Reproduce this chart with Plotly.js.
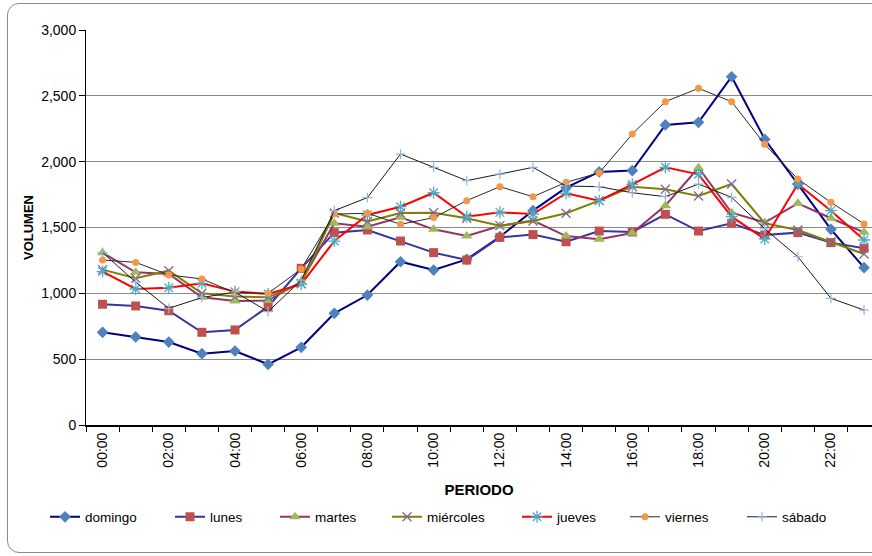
<!DOCTYPE html>
<html>
<head>
<meta charset="utf-8">
<script src="https://cdn.plot.ly/plotly-3.0.1.min.js"></script>
<style>
html,body{margin:0;padding:0;overflow:hidden;background:#fff;}
#chart{width:872px;height:556px;}
#frame{position:absolute;left:7px;top:3px;width:900px;height:548px;border:1px solid #8a8a8a;border-radius:12px;pointer-events:none;}
</style>
</head>
<body>
<div id="chart"></div>
<div id="frame"></div>
<script>
const hours = ["00:00","01:00","02:00","03:00","04:00","05:00","06:00","07:00","08:00","09:00","10:00","11:00",
               "12:00","13:00","14:00","15:00","16:00","17:00","18:00","19:00","20:00","21:00","22:00","23:00"];
const xTickText = ["00:00","","02:00","","04:00","","06:00","","08:00","","10:00","",
                   "12:00","","14:00","","16:00","","18:00","","20:00","","22:00",""];
const yTickVals = [0, 500, 1000, 1500, 2000, 2500, 3000];

const seriesNames = ["domingo","lunes","martes","miércoles","jueves","viernes","sábado"];

const domingo   = [704, 669, 630, 542, 562, 461, 590, 848, 987, 1240, 1177, 1258, 1430, 1628, 1803, 1922, 1932, 2279, 2299, 2645, 2170, 1830, 1486, 1195];
const lunes     = [917, 904, 868, 704, 722, 899, 1190, 1461, 1481, 1397, 1309, 1253, 1425, 1446, 1392, 1473, 1466, 1600, 1473, 1532, 1443, 1461, 1385, 1342];
const martes    = [1309, 1160, 1147, 970, 942, 945, 1089, 1532, 1506, 1577, 1486, 1435, 1512, 1552, 1435, 1410, 1458, 1666, 1954, 1612, 1538, 1684, 1570, 1463];
const miercoles = [1180, 1114, 1172, 1000, 975, 970, 1075, 1610, 1545, 1610, 1612, 1570, 1514, 1549, 1608, 1704, 1810, 1790, 1739, 1830, 1532, 1481, 1390, 1299];
const jueves    = [1165, 1033, 1043, 1076, 1013, 995, 1070, 1397, 1595, 1658, 1764, 1582, 1615, 1602, 1760, 1704, 1828, 1957, 1904, 1582, 1413, 1830, 1628, 1405];
const viernes   = [1253, 1235, 1140, 1109, 1005, 1000, 1185, 1602, 1608, 1524, 1575, 1704, 1810, 1734, 1843, 1915, 2210, 2456, 2557, 2456, 2132, 1868, 1691, 1527];
const sabado    = [1310, 1085, 886, 968, 1010, 861, 1100, 1628, 1727, 2058, 1957, 1856, 1906, 1957, 1815, 1810, 1764, 1734, 1830, 1729, 1490, 1278, 962, 873];

const seriesValues = [domingo, lunes, martes, miercoles, jueves, viernes, sabado];

const styles = [
  {line:{color:"#000080", width:2},   marker:{symbol:"diamond", size:9, color:"#4F81BD"}},
  {line:{color:"#3535A0", width:2},   marker:{symbol:"square", size:9, color:"#C0504D"}},
  {line:{color:"#993366", width:2},   marker:{symbol:"triangle-up", size:10, color:"#9BBB59"}},
  {line:{color:"#808000", width:2},   marker:{symbol:"x-thin-open", size:9, color:"#8064A2", line:{color:"#8064A2", width:1.3}}},
  {line:{color:"#FF0000", width:2},   marker:{symbol:"asterisk-open", size:10, color:"#4BACC6", line:{color:"#4BACC6", width:1.3}}},
  {line:{color:"#2a2a2a", width:1},   marker:{symbol:"circle", size:7, color:"#F79646"}},
  {line:{color:"#1a1a1a", width:1},   marker:{symbol:"cross-thin-open", size:7, color:"#95B3D7", line:{color:"#95B3D7", width:1.2}}}
];

const plotLeft = 86, plotW = 786, plotTop = 30, plotH = 395;
const legendTextStart = [85, 210, 315, 427, 557, 665, 782];
const legendNames = ["legend","legend2","legend3","legend4","legend5","legend6","legend7"];

const traces = seriesNames.map((name, i) => ({
  type: "scatter",
  mode: "lines+markers",
  name: name,
  x: hours,
  y: seriesValues[i],
  line: styles[i].line,
  marker: styles[i].marker,
  legend: legendNames[i]
}));

const legendY = (plotTop + plotH - 517) / plotH;
const layout = {
  width: 872, height: 556,
  margin: {l: plotLeft, r: 0, t: plotTop, b: 556 - plotTop - plotH},
  paper_bgcolor: "rgba(0,0,0,0)",
  plot_bgcolor: "#fff",
  font: {family: "Liberation Sans, Arial, sans-serif", color: "#000", size: 14},
  showlegend: true,
  xaxis: {
    type: "category",
    range: [-0.5, 23.24],
    tickmode: "array",
    tickvals: hours,
    ticktext: xTickText,
    tickson: "boundaries",
    ticks: "outside",
    ticklen: 5,
    tickcolor: "#000",
    tickangle: -90,
    tickfont: {size: 14},
    showline: true, linecolor: "#000", linewidth: 2,
    showgrid: false, zeroline: false,
    title: {text: "PERIODO", font: {size: 15, family: "Liberation Sans, Arial, sans-serif", weight: "bold"}, standoff: 18}
  },
  yaxis: {
    range: [0, 3000],
    tickmode: "array",
    tickvals: yTickVals,
    tickformat: ",",
    ticks: "outside", ticklen: 6, tickcolor: "#000",
    tickfont: {size: 14},
    showline: true, linecolor: "#000", linewidth: 1,
    showgrid: true, gridcolor: "#8a8a8a", gridwidth: 1,
    zeroline: false,
    title: {text: "VOLUMEN", font: {size: 13, family: "Liberation Sans, Arial, sans-serif", weight: "bold"}, standoff: 4}
  }
};
legendNames.forEach((ln, i) => {
  layout[ln] = {
    orientation: "h",
    x: (legendTextStart[i] - 40 - plotLeft) / plotW,
    xanchor: "left",
    y: legendY, yanchor: "middle",
    bgcolor: "rgba(0,0,0,0)",
    font: {size: 13.5, family: "Liberation Sans, Arial, sans-serif"},
    itemwidth: 30
  };
});

Plotly.newPlot("chart", traces, layout, {displayModeBar: false, staticPlot: true});
</script>
</body>
</html>
